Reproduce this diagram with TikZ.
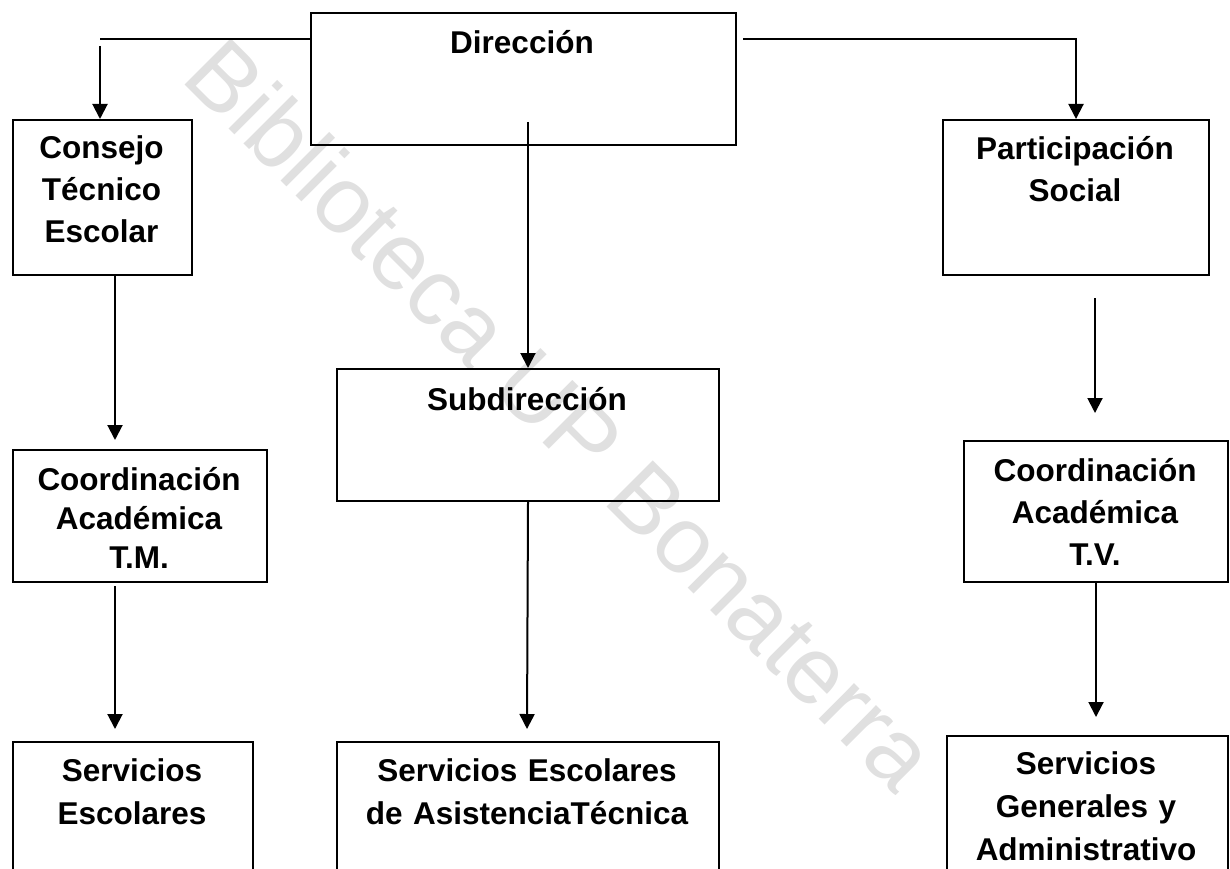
\documentclass[tikz,border=0pt]{standalone}
\usepackage{fontspec}
\setmainfont{Liberation Sans}
\newfontfamily\wmfont{Liberation Sans}
\usetikzlibrary{arrows.meta}
\begin{document}
\begin{tikzpicture}[x=1pt,y=-1pt,
  box/.style={draw, line width=2pt, inner sep=0pt, anchor=north west},
  lbl/.style={inner sep=0pt, anchor=base, align=center, text width=420pt,
    font=\bfseries\fontsize{31.5pt}{42pt}\selectfont},
  conn/.style={line width=2pt},
  arr/.style={conn, -{Triangle[length=15pt,width=15pt]}},
  wm/.style={inner sep=0pt, text=black!12, font=\wmfont\fontsize{95pt}{95pt}\selectfont}
]
\useasboundingbox (0,0) rectangle (1230,869);
\clip (0,0) rectangle (1230,869);

% watermark
\node[wm, rotate=-45] (wmark) at (562,414) {Biblioteca UP Bonaterra};

% boxes
\node[box, minimum width=425pt, minimum height=132pt] (dir) at (310,12) {};
\node[box, minimum width=179pt, minimum height=155pt] (cte) at (12,119) {};
\node[box, minimum width=266pt, minimum height=155pt] (ps) at (942,119) {};
\node[box, minimum width=382pt, minimum height=132pt] (sub) at (336,368) {};
\node[box, minimum width=254pt, minimum height=132pt] (ctm) at (12,449) {};
\node[box, minimum width=264pt, minimum height=141pt] (ctv) at (963,440) {};
\node[box, minimum width=240pt, minimum height=200pt] (se) at (12,741) {};
\node[box, minimum width=382pt, minimum height=200pt] (sea) at (336,741) {};
\node[box, minimum width=281pt, minimum height=200pt] (sga) at (946,735) {};

% labels
\node[lbl] (dirT) at (522,54) {Dirección};
\node[lbl] (cteT) at (101.5,159) {Consejo\\Técnico\\Escolar};
\node[lbl] (psT) at (1075,160) {Participación\\Social};
\node[lbl] (subT) at (527,410) {Subdirección};
\begin{scope}
\clip (0,0) rectangle (1230,569.5);
\node[lbl, font=\bfseries\fontsize{31.5pt}{39pt}\selectfont] (ctmT) at (139,490) {Coordinación\\Académica\\T.M.};
\end{scope}
\node[lbl] (ctvT) at (1095,481) {Coordinación\\Académica\\T.V.};
\node[lbl, font=\bfseries\fontsize{31.5pt}{43pt}\selectfont] (seT) at (132,781) {Servicios\\Escolares};
\node[lbl, font=\bfseries\fontsize{31.5pt}{43pt}\selectfont] (seaT) at (527,781) {Servicios Escolares\\de AsistenciaTécnica};
\node[lbl, font=\bfseries\fontsize{31.5pt}{43pt}\selectfont] (sgaT) at (1086,774) {Servicios\\Generales y\\Administrativo};

% free ends of connectors
\coordinate (c1) at (100,39.5);
\coordinate (c1b) at (100,46);
\coordinate (c2) at (743,39.5);
\coordinate (c3) at (528,122);
\coordinate (c4) at (115,440);
\coordinate (c5a) at (1095,298);
\coordinate (c5b) at (1095,413);
\coordinate (c6) at (527,729);
\coordinate (c7a) at (115,586);
\coordinate (c7b) at (115,729);
\coordinate (c8) at (1096,717);

% connectors
\draw[conn] (dir.west |- c1) -- (c1);
\draw[arr] (c1b) -- (c1b |- cte.north);
\draw[arr] (c2) -| (ps.north);
\draw[arr] (c3) -- (c3 |- sub.north);
\draw[arr] (c4 |- cte.south) -- (c4);
\draw[arr] (c5a) -- (c5b);
\draw[arr] (sub.south) -- (c6);
\draw[arr] (c7a) -- (c7b);
\draw[arr] (c8 |- ctv.south) -- (c8);
\end{tikzpicture}
\end{document}
